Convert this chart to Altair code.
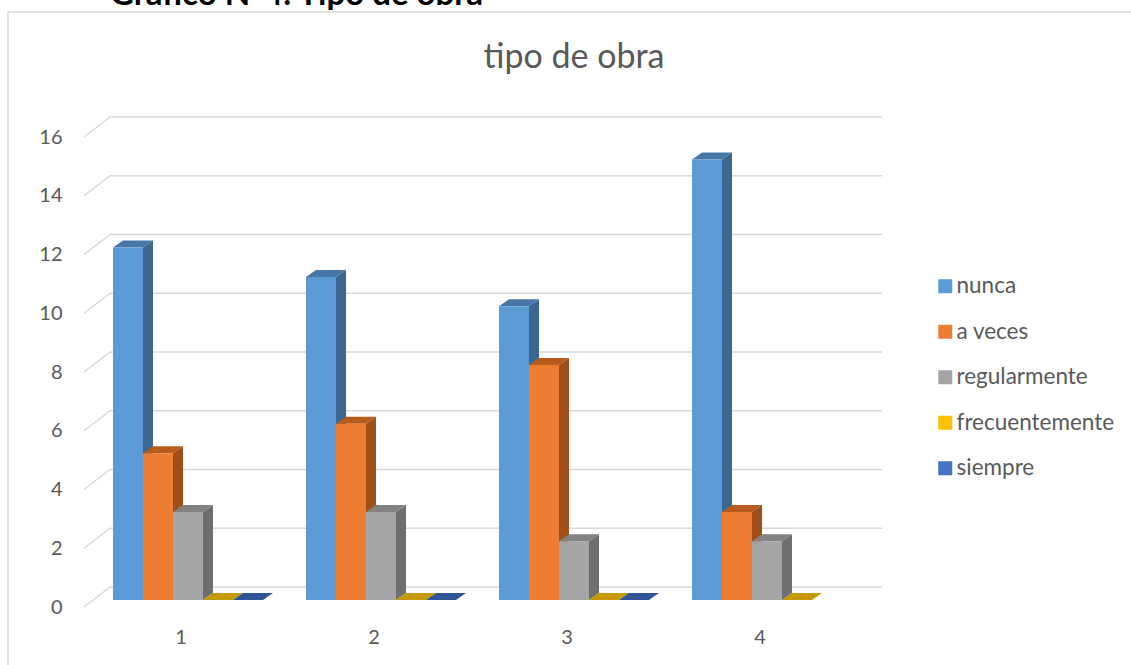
import altair as alt
import pandas as pd

# ---- data ----
categorias = ["1", "2", "3", "4"]
series = ["nunca", "a veces", "regularmente", "frecuentemente", "siempre"]
nunca = [12, 11, 10, 15]
a_veces = [5, 6, 8, 3]
regularmente = [3, 3, 2, 2]
frecuentemente = [0, 0, 0, 0]
siempre = [0, 0, 0, None]
valores = [nunca, a_veces, regularmente, frecuentemente, siempre]
y_ticks = [0, 2, 4, 6, 8, 10, 12, 14, 16]

front_colors = ["#5B9BD5", "#ED7D31", "#A5A5A5", "#FFC000", "#4472C4"]
side_colors = ["#3B6790", "#A04F1A", "#6E6E6E", "#B08600", "#2E4F8A"]
top_colors = ["#4677A6", "#B85C1E", "#828282", "#C49A00", "#2F5597"]

# ---- geometry (pseudo 3-D) ----
PXX, PXY = 193.0, 29.375          # pixels per category / per unit
W_PX, H_PX = 798, 490
DX, DY = 26 / PXX, 20 / PXY       # floor depth
GAP, BW = 20 / PXX, 30 / PXX      # gap before first bar, bar width
BX, BY = 9 / PXX, 7 / PXY         # bar front plane offset
DXB, DYB = 10 / PXX, 7 / PXY      # bar depth

fronts, sides, tops = [], [], []
for s, (name, vals) in enumerate(zip(series, valores)):
    for c, v in enumerate(vals):
        if v is None:
            continue
        bid = f"{name}-{c}"
        xl = c + GAP + s * BW + BX
        xr = xl + BW
        fronts.append({"serie": name, "x": xl, "x2": xr, "y": BY, "y2": BY + v})
        sides.append({"id": bid, "fill": side_colors[s], "x": xr, "lo": BY, "hi": BY + v})
        sides.append({"id": bid, "fill": side_colors[s], "x": xr + DXB, "lo": BY + DYB, "hi": BY + DYB + v})
        tops.append({"id": bid, "fill": top_colors[s], "y": BY + v, "xl": xl, "xr": xr})
        tops.append({"id": bid, "fill": top_colors[s], "y": BY + v + DYB, "xl": xl + DXB, "xr": xr + DXB})

grid = pd.DataFrame({"v": y_ticks})
grid["vb"] = grid["v"] + DY
grid["x0"] = 0.0
grid["xb"] = DX
grid["xe"] = len(categorias) + DX

xs = alt.Scale(domain=[0, W_PX / PXX], nice=False, zero=False)
ys = alt.Scale(domain=[0, H_PX / PXY], nice=False, zero=False)
FONT = "Lato"
GREY = "#595959"

x_axis = alt.Axis(values=[i + 0.5 for i in range(len(categorias))],
                  labelExpr="'' + (datum.value + 0.5)", domain=False, ticks=False,
                  grid=False, title=None, labelFontSize=20, labelFont=FONT,
                  labelColor=GREY, labelPadding=20)
y_axis = alt.Axis(values=y_ticks, domain=False, ticks=False, grid=False, title=None,
                  labelFontSize=20, labelFont=FONT, labelColor=GREY, labelPadding=22)

one = alt.Data(values=[{"a": 1}])
border_top = alt.Chart(one).mark_rule(color="#D9D9D9", strokeWidth=1.5).encode(
    x=alt.value(8 - 84), x2=alt.value(1140), y=alt.value(12 - 117))
border_left = alt.Chart(one).mark_rule(color="#D9D9D9", strokeWidth=1.5).encode(
    x=alt.value(8 - 84), y=alt.value(12 - 117), y2=alt.value(700))

cut_text = alt.Chart(alt.Data(values=[{"t": "Gráfico N°4: Tipo de obra"}])).mark_text(
    align="left", baseline="alphabetic", fontSize=33, fontWeight="bold",
    font=FONT, color="#000000").encode(
    text="t:N", x=alt.value(110 - 84), y=alt.value(5 - 117))

title = alt.Chart(alt.Data(values=[{"t": "tipo de obra"}])).mark_text(
    align="center", baseline="alphabetic", fontSize=34, font=FONT, color=GREY).encode(
    text="t:N", x=alt.value(574 - 84), y=alt.value(68 - 117))

diag = alt.Chart(grid).mark_rule(color="#D9D9D9", strokeWidth=1.5).encode(
    x=alt.X("x0:Q", scale=xs, axis=x_axis), x2="xb:Q",
    y=alt.Y("v:Q", scale=ys, axis=y_axis), y2="vb:Q")
back = alt.Chart(grid).mark_rule(color="#D9D9D9", strokeWidth=1.5).encode(
    x=alt.X("xb:Q", scale=xs), x2="xe:Q", y=alt.Y("vb:Q", scale=ys))

side_layer = alt.Chart(pd.DataFrame(sides)).mark_area(orient="vertical").encode(
    x=alt.X("x:Q", scale=xs), y=alt.Y("hi:Q", scale=ys), y2="lo:Q",
    detail="id:N", fill=alt.Fill("fill:N", scale=None))
top_layer = alt.Chart(pd.DataFrame(tops)).mark_area(orient="horizontal").encode(
    y=alt.Y("y:Q", scale=ys), x=alt.X("xl:Q", scale=xs), x2="xr:Q",
    detail="id:N", fill=alt.Fill("fill:N", scale=None))
front_layer = alt.Chart(pd.DataFrame(fronts)).mark_rect().encode(
    x=alt.X("x:Q", scale=xs), x2="x2:Q", y=alt.Y("y:Q", scale=ys), y2="y2:Q",
    color=alt.Color("serie:N", sort=series,
                    scale=alt.Scale(domain=series, range=front_colors),
                    legend=alt.Legend(title=None, orient="none", legendX=850, legendY=158,
                                      symbolType="square", symbolSize=196,
                                      symbolStrokeWidth=0, labelFontSize=22.5,
                                      labelFont=FONT, labelColor=GREY, labelOffset=0,
                                      rowPadding=22.5, padding=0)))

chart = alt.layer(border_top, border_left, cut_text, title, diag, back,
                  side_layer, top_layer, front_layer).properties(
    width=W_PX, height=H_PX,
    autosize=alt.AutoSizeParams(type="none"),
    padding={"left": 84, "top": 117, "right": 1131 - 84 - W_PX, "bottom": 665 - 117 - H_PX},
).configure_view(stroke="transparent", strokeWidth=0).configure_axis(
    grid=False, domain=False, ticks=False)

chart.save("out.html", embed_options={"renderer": "svg", "actions": False})
